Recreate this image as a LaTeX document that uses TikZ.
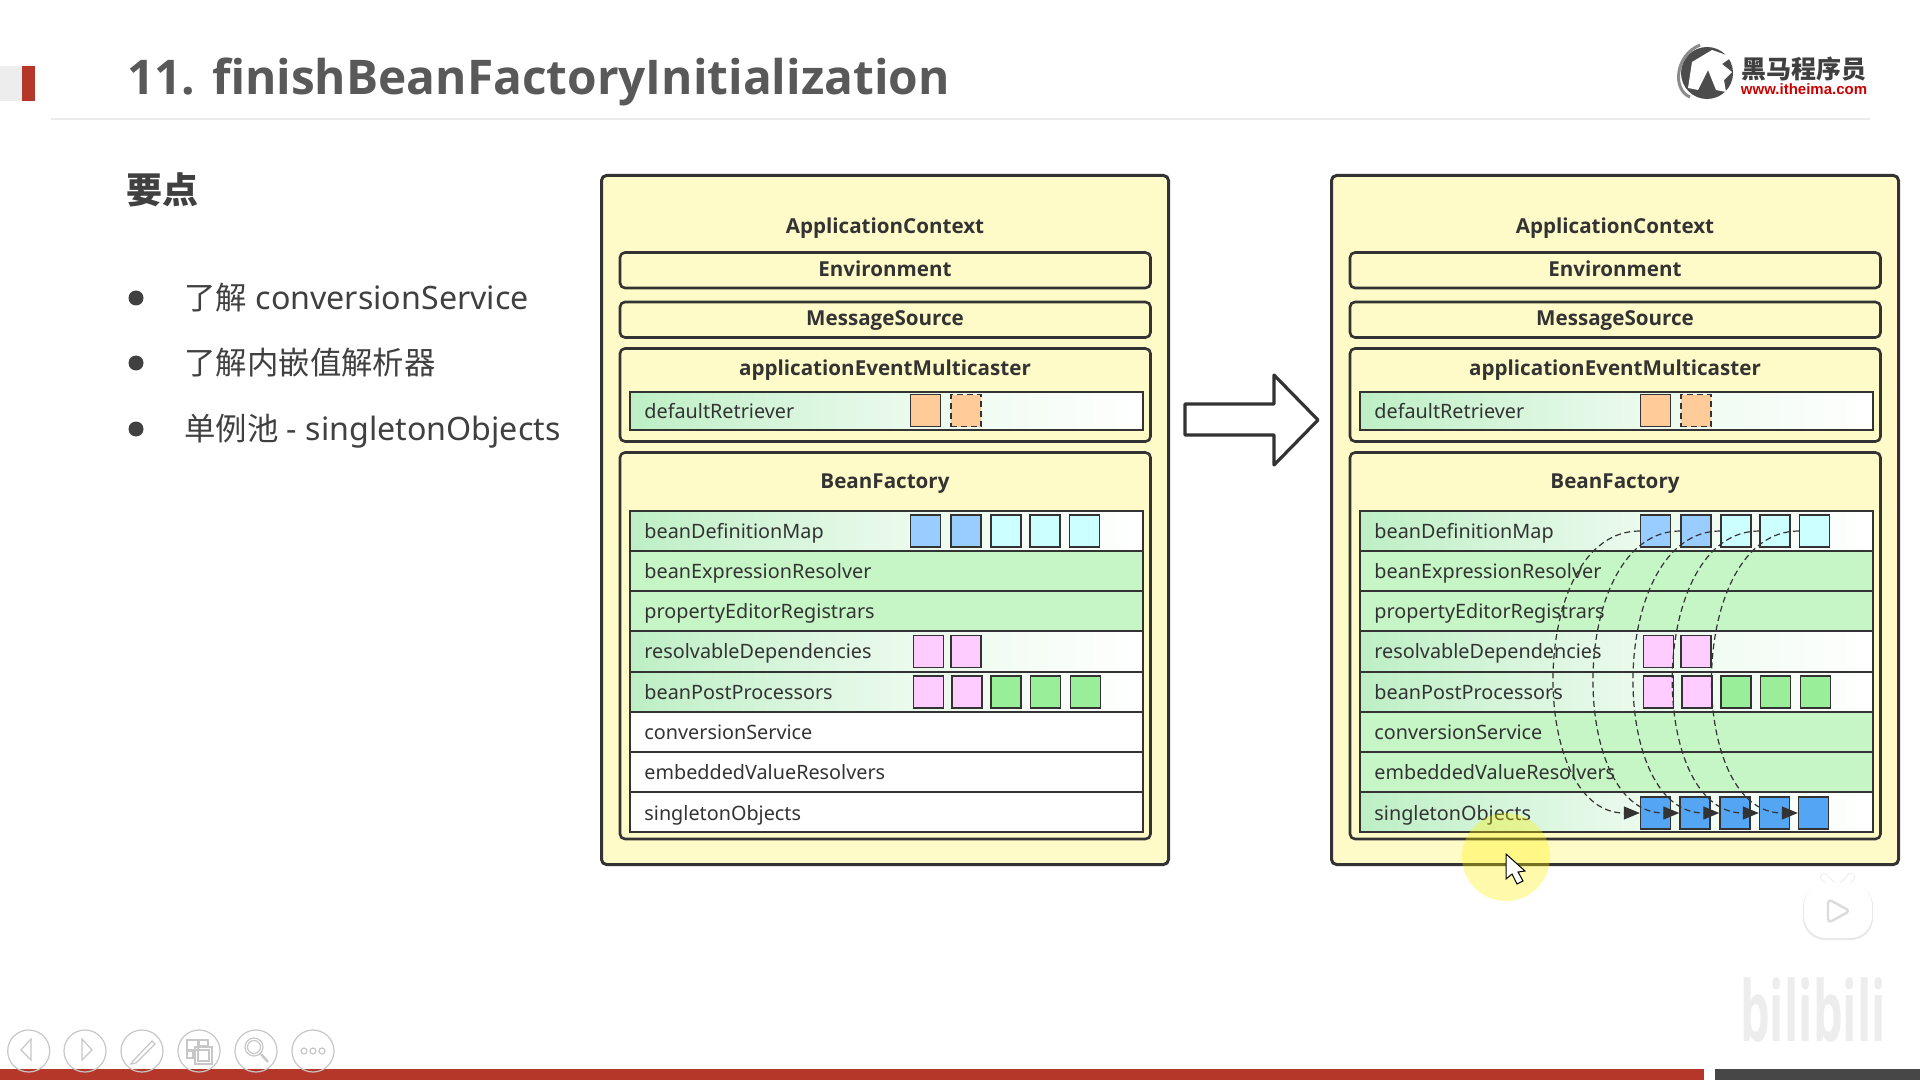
\documentclass[tikz,border=0pt]{standalone}
\usepackage{fontspec}
\setmainfont{Noto Sans}
\newfontfamily\cjkf{Noto Sans CJK SC}
\newfontfamily\arialfont{Liberation Sans}
\newfontfamily\boldf{Open Sans}
\usetikzlibrary{arrows.meta}
\definecolor{ink}{HTML}{333333}
\definecolor{panel}{HTML}{FFFBC9}
\definecolor{rowgreen}{HTML}{C6F5C6}
\definecolor{gradgreen}{HTML}{BDEFC4}
\definecolor{bluelt}{HTML}{99CCFF}
\definecolor{cyanlt}{HTML}{CCFFFF}
\definecolor{pinklt}{HTML}{FFCCFF}
\definecolor{greenmd}{HTML}{99EE99}
\definecolor{bluedk}{HTML}{55A5F5}
\definecolor{orangelt}{HTML}{FFCC99}
\definecolor{bodytext}{HTML}{404040}
\definecolor{titlegrey}{HTML}{595959}
\definecolor{redbar}{HTML}{B5372A}
\tikzset{
  x=0.5pt,y=-0.5pt,
  outerbox/.style={draw=ink,line width=1.5pt,fill=panel,rounded corners=2.5pt},
  innerbox/.style={draw=ink,line width=1.3pt,fill=panel,rounded corners=2.5pt},
  fixedbox/.style={text height=7.2pt,text depth=2pt,inner sep=0pt},
  boldlabel/.style={fixedbox,font=\boldf\fontsize{10.3}{12}\selectfont\bfseries,text=ink,yshift=-0.75pt},
  rowlabel/.style={fixedbox,font=\fontsize{9.9}{12}\selectfont,text=ink,anchor=west,yshift=-1pt},
  rowbase/.style={draw=ink,line width=0.7pt},
  rowfull/.style={rowbase,fill=rowgreen},
  rowgrad/.style={rowbase,left color=gradgreen,right color=white,middle color=gradgreen!35!white},
  rowplain/.style={rowbase,fill=white},
  sq/.style={draw=ink,line width=0.7pt,minimum width=15pt,minimum height=16pt,inner sep=0pt,anchor=center},
  flow/.style={dash pattern=on 3pt off 1.8pt,draw=ink,line width=0.6pt,-{Triangle[length=8pt,width=6.5pt]}},
  navbtn/.style={draw=black!22,line width=0.6pt,circle,minimum size=21pt,inner sep=0pt},
  navicon/.style={draw=black!22,line width=0.6pt},
  bullet/.style={circle,fill=bodytext,minimum size=7.5pt,inner sep=0pt},
  bullettext/.style={font=\fontsize{16.1}{18}\selectfont,text=bodytext,anchor=west,inner sep=0pt,text height=12pt,text depth=3.5pt,yshift=-1.3pt}
}
\newcommand{\cjkt}[1]{{\cjkf\fontsize{15.7}{18}\selectfont #1}}
\begin{document}
\begin{tikzpicture}
\useasboundingbox (0,0) rectangle (1920,1080);
\fill[white] (0,0) rectangle (1920,1080);
% slide furniture
\fill[black!7] (0,66) rectangle (22,101);
\fill[redbar] (22,66) rectangle (35,101);
\draw[black!8,line width=1pt] (51,119) -- (1870,119);
\node[anchor=west,inner sep=0pt,text=titlegrey,font=\boldf\fontsize{23.9}{30}\selectfont\bfseries,text height=17pt,text depth=5pt] (title) at (127,83) {11. finishBeanFactoryInitialization};
\node[anchor=west,inner sep=0pt,text=bodytext,font=\cjkf\fontsize{18}{22}\selectfont\bfseries,text height=14pt,text depth=4pt] (yaodian) at (126,194) {要点};
\node[bullet] (b1) at (136,298) {};
\node[bullet] (b2) at (136,363) {};
\node[bullet] (b3) at (136,429) {};
\node[bullettext] (t1) at (184,298) {\cjkt{了解} conversionService};
\node[bullettext] (t2) at (184,363) {\cjkt{了解内嵌值解析器}};
\node[bullettext] (t3) at (184,429) {\cjkt{单例池} - singletonObjects};
% logo
\fill[black!70] (1707,73) circle[radius=26];
\fill[white] (1688,88) -- (1692,62) -- (1712,50) -- (1732,57) -- (1722,64) -- (1732,72) -- (1724,80) -- (1726,92) -- (1716,90) -- (1708,70) -- (1698,90) -- cycle;
\draw[black!45,line width=1.5pt] (1700,45) .. controls (1675,55) and (1672,90) .. (1690,97);
\node[inner sep=0pt,text=black!75,font=\cjkf\fontsize{12.5}{15}\selectfont\bfseries] (logocn) at (1804,69) {黑马程序员};
\node[inner sep=0pt,text=red!80!black,font=\arialfont\fontsize{7.5}{10}\selectfont\bfseries] (logourl) at (1804,89) {www.itheima.com};
% bottom bar
\fill[redbar] (0,1069) rectangle (1704,1080);
\fill[black!72] (1715,1069) rectangle (1920,1080);
% nav buttons
\foreach \nx [count=\ni] in {28.7,85,142,199,256,313} { \node[navbtn] (nav\ni) at (\nx,1051) {}; }
\draw[navicon] (31,1039) -- (31,1060) -- (21,1050) -- cycle;
\draw[navicon] (82,1039) -- (82,1060) -- (92,1050) -- cycle;
\draw[navicon] (133,1061) -- (152,1041) -- (155,1044) -- (136,1063) -- (131,1064) -- cycle;
\draw[navicon] (187,1040) rectangle (198,1050) (199,1040) rectangle (208,1046) (187,1051) rectangle (193,1058) (195,1047) rectangle (212,1064) (198,1050) rectangle (209,1061);
\draw[navicon] (254,1047) circle[radius=9] (254,1047) circle[radius=6.5];
\draw[navicon,line width=1.2pt] (261,1054) -- (268,1062);
\foreach \dx in {304,313,322} { \draw[navicon] (\dx,1051) circle[radius=3]; }
% panels
\foreach \p/\ox/\kind in {L/0/0,R/730/1} {
  \begin{scope}[shift={(\ox,0)}]
  \draw[outerbox] (601.5,175.5) rectangle (1168.5,864.5);
  \node[boldlabel] (\p ctx) at (885,227) {ApplicationContext};
  \draw[innerbox] (620,252.5) rectangle (1150.5,288);
  \node[boldlabel] (\p env) at (885,270) {Environment};
  \draw[innerbox] (620,302) rectangle (1150.5,337.5);
  \node[boldlabel] (\p msg) at (885,319) {MessageSource};
  \draw[innerbox] (620,348.5) rectangle (1150.5,441.5);
  \node[boldlabel] (\p aem) at (885,369) {applicationEventMulticaster};
  \draw[rowgrad] (630,392) rectangle (1143,430);
  \node[rowlabel] (\p dr) at (644,411) {defaultRetriever};
  \node[sq,fill=orangelt] (\p dra) at (925.5,410.5) {};
  \node[sq,fill=orangelt,densely dashed] (\p drb) at (966,410.5) {};
  \draw[innerbox] (620,452.5) rectangle (1150.5,839);
  \node[boldlabel] (\p bf) at (885,482) {BeanFactory};
  % rows
  \draw[rowgrad] (630,511) rectangle (1143,551);
  \draw[rowfull] (630,551) rectangle (1143,591);
  \draw[rowfull] (630,591) rectangle (1143,631);
  \draw[rowgrad] (630,631) rectangle (1143,672);
  \draw[rowgrad] (630,672) rectangle (1143,712);
  \ifnum\kind=1
    \draw[rowfull] (630,712) rectangle (1143,752);
    \draw[rowfull] (630,752) rectangle (1143,792);
    \draw[rowgrad] (630,792) rectangle (1143,832);
  \else
    \draw[rowplain] (630,712) rectangle (1143,752);
    \draw[rowplain] (630,752) rectangle (1143,792);
    \draw[rowplain] (630,792) rectangle (1143,832);
  \fi
  \node[rowlabel] (\p ra) at (644,531) {beanDefinitionMap};
  \node[rowlabel] (\p rb) at (644,571) {beanExpressionResolver};
  \node[rowlabel] (\p rc) at (644,611) {propertyEditorRegistrars};
  \node[rowlabel] (\p rd) at (644,651.5) {resolvableDependencies};
  \node[rowlabel] (\p re) at (644,692) {beanPostProcessors};
  \node[rowlabel] (\p rf) at (644,732) {conversionService};
  \node[rowlabel] (\p rg) at (644,772) {embeddedValueResolvers};
  \node[rowlabel] (\p rh) at (644,813) {singletonObjects};
  % squares
  \node[sq,fill=bluelt] (\p da) at (925.5,531) {};
  \node[sq,fill=bluelt] (\p db) at (966,531) {};
  \node[sq,fill=cyanlt] (\p dc) at (1006,531) {};
  \node[sq,fill=cyanlt] (\p dd) at (1045,531) {};
  \node[sq,fill=cyanlt] (\p de) at (1084.5,531) {};
  \node[sq,fill=pinklt] (\p pa) at (928.5,651.5) {};
  \node[sq,fill=pinklt] (\p pb) at (966,651.5) {};
  \node[sq,fill=pinklt] (\p qa) at (928.5,692) {};
  \node[sq,fill=pinklt] (\p qb) at (967,692) {};
  \node[sq,fill=greenmd] (\p qc) at (1006,692) {};
  \node[sq,fill=greenmd] (\p qd) at (1045.5,692) {};
  \node[sq,fill=greenmd] (\p qe) at (1085.5,692) {};
  \ifnum\kind=1
    \node[sq,fill=bluedk] (\p sa) at (925.5,813) {};
    \node[sq,fill=bluedk] (\p sb) at (965,813) {};
    \node[sq,fill=bluedk] (\p sc) at (1005,813) {};
    \node[sq,fill=bluedk] (\p sd) at (1044.5,813) {};
    \node[sq,fill=bluedk] (\p se) at (1083.5,813) {};
  \fi
  \end{scope}
}
% flows
\foreach \a in {a,b,c,d,e} {
  \draw[flow] (Rd\a.west) .. controls +(-113,0) and ([xshift=-56.5pt]Rs\a.west) .. (Rs\a.west);
}
% big arrow
\draw[draw=ink,line width=1.6pt,fill=white,line join=round] (1185,404) -- (1274,404) -- (1274,375) -- (1318,420) -- (1274,465) -- (1274,435) -- (1185,435) -- cycle;
% cursor highlight
\fill[yellow,opacity=0.33] (1506,857) circle[radius=44];
\draw[black,line width=0.5pt,fill=white] (1506,854) -- (1506,879) -- (1512,874) -- (1517,884) -- (1523,881) -- (1518,872) -- (1525,871) -- cycle;
% watermark
\draw[black!7,line width=4pt,line cap=round] (1824,877) -- (1832,885) (1851,877) -- (1843,885);
\fill[black!9,rounded corners=11pt] (1803,884) rectangle (1873,940);
\fill[white,rounded corners=11pt] (1804,883) rectangle (1872,938);
\draw[white,line width=3pt,line cap=round] (1824,877) -- (1832,885) (1851,877) -- (1843,885);
\draw[black!14,line width=1.2pt,fill=white,rounded corners=2pt,line join=round] (1828,899) -- (1828,923) -- (1850,911) -- cycle;
\node[inner sep=0pt,text=black!7,xscale=0.56,font=\boldf\fontsize{42}{44}\selectfont\bfseries] (wm) at (1813,1010) {bilibili};
\end{tikzpicture}
\end{document}
